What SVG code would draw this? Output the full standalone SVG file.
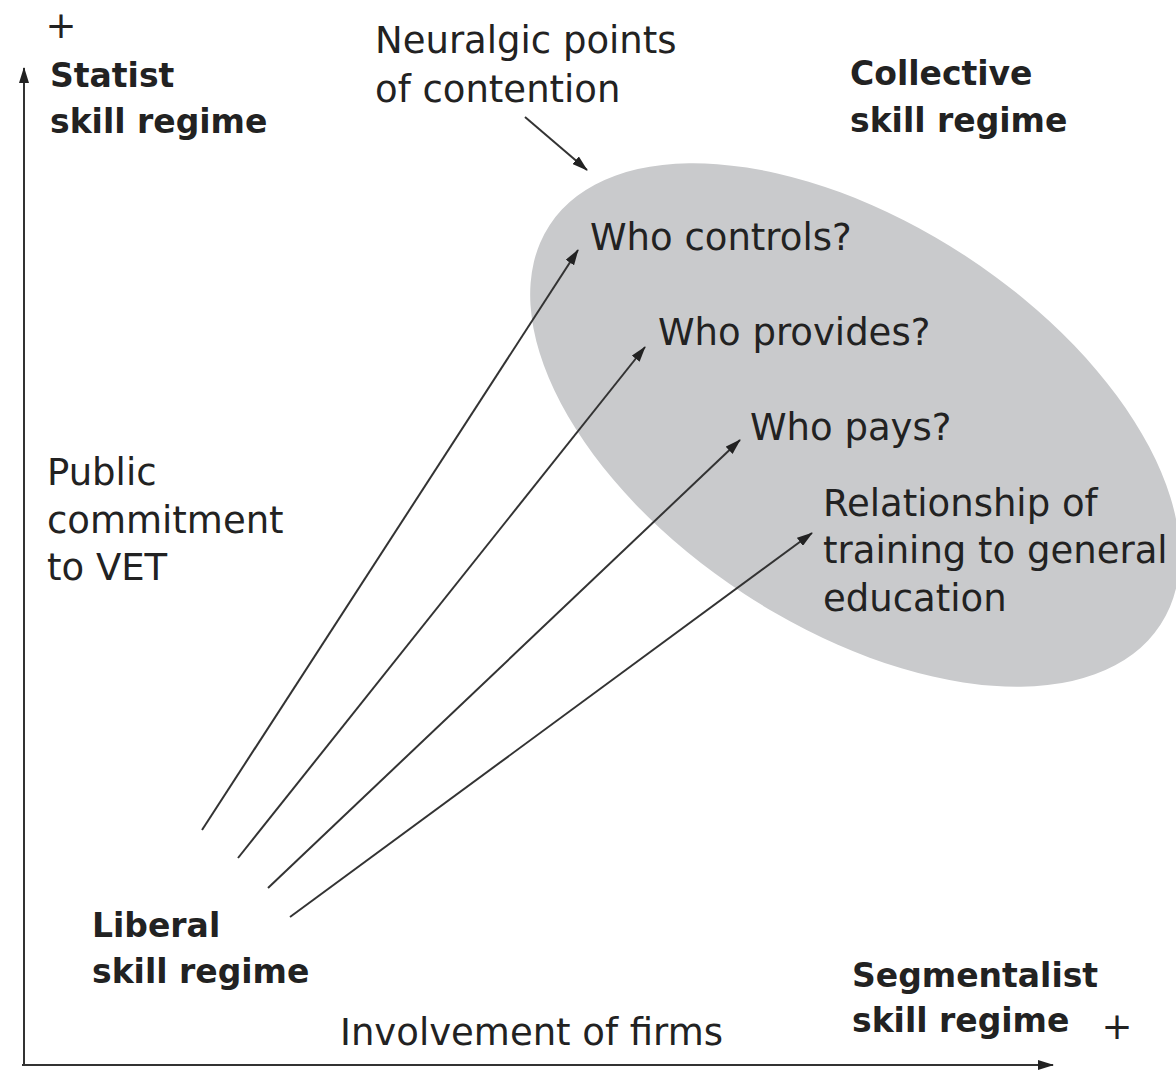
<svg xmlns="http://www.w3.org/2000/svg" width="1176" height="1072" viewBox="0 0 1176 1072">
<defs>
<marker id="ah" markerWidth="16" markerHeight="10" refX="15" refY="5" orient="auto" markerUnits="userSpaceOnUse">
<path d="M0,0 L16,5 L0,10 Z" fill="#222"/>
</marker>
<style>
.t{font-family:"DejaVu Sans","Liberation Sans",sans-serif;font-size:37px;fill:#222}
.b{font-family:"DejaVu Sans","Liberation Sans",sans-serif;font-size:33px;font-weight:bold;fill:#222}
.ln{stroke:#333;stroke-width:2;fill:none}
</style>
</defs>
<rect width="1176" height="1072" fill="#fff"/>
<g id="cluster">
<ellipse cx="855" cy="425" rx="365" ry="202" transform="rotate(33.2 855 425)" fill="#c9cacc"/>
</g>
<g id="axes">
<path class="ln" d="M24,1065 L24,68" marker-end="url(#ah)"/>
<path class="ln" d="M22,1065 L1053,1065" marker-end="url(#ah)"/>
</g>
<g id="connectors">
<path class="ln" d="M202,830 L578,250" marker-end="url(#ah)"/>
<path class="ln" d="M238,858 L645,347" marker-end="url(#ah)"/>
<path class="ln" d="M268,888 L740,440" marker-end="url(#ah)"/>
<path class="ln" d="M290,917 L812,533" marker-end="url(#ah)"/>
<path class="ln" d="M525,117 L587,170" marker-end="url(#ah)"/>
</g>
<g id="statist"><text class="t" x="61" y="38" text-anchor="middle">+</text><text class="b" x="50" y="87">Statist</text><text class="b" x="50" y="133">skill regime</text></g>
<g id="neuralgic"><text class="t" x="375" y="53">Neuralgic points</text><text class="t" x="375" y="102">of contention</text></g>
<g id="collective"><text class="b" x="850" y="85">Collective</text><text class="b" x="850" y="132">skill regime</text></g>
<g id="controls"><text class="t" x="590" y="250">Who controls?</text></g>
<g id="provides"><text class="t" x="658" y="345">Who provides?</text></g>
<g id="pays"><text class="t" x="750" y="440">Who pays?</text></g>
<g id="relationship"><text class="t" x="823" y="516">Relationship of</text><text class="t" x="823" y="563">training to general</text><text class="t" x="823" y="611">education</text></g>
<g id="public"><text class="t" x="47" y="485">Public</text><text class="t" x="47" y="533">commitment</text><text class="t" x="47" y="580">to VET</text></g>
<g id="liberal"><text class="b" x="92" y="937">Liberal</text><text class="b" x="92" y="983">skill regime</text></g>
<g id="segmentalist"><text class="b" x="852" y="987">Segmentalist</text><text class="b" x="852" y="1032">skill regime</text><text class="t" x="1117" y="1039" text-anchor="middle">+</text></g>
<g id="firms"><text class="t" x="340" y="1045">Involvement of firms</text></g>
</svg>
